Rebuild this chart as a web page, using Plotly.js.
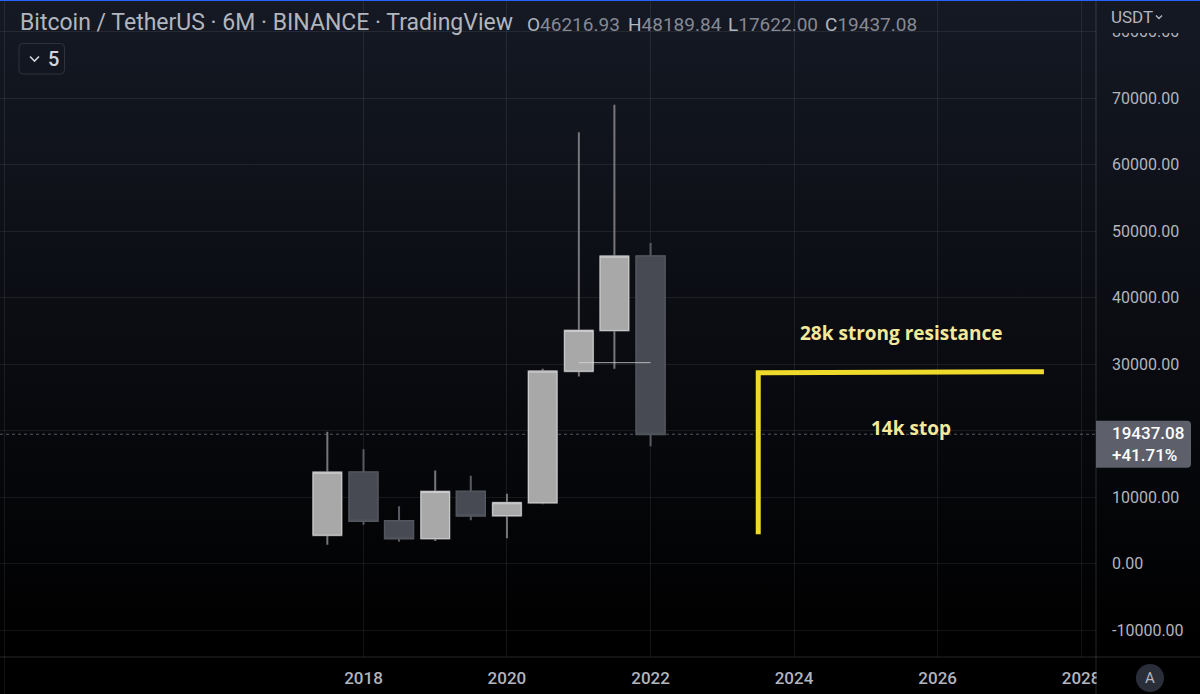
<!DOCTYPE html>
<html>
<head>
<meta charset="utf-8">
<script src="https://cdn.plot.ly/plotly-3.0.1.min.js"></script>
<style>
  html, body { margin: 0; padding: 0; width: 1200px; height: 694px; overflow: hidden; }
  body { background: linear-gradient(to bottom, #151924 0px, #000000 650px, #000000 694px); }
  #chart { width: 1200px; height: 694px; }
</style>
</head>
<body>
<div id="chart"></div>
<script>
// BTC/USDT half-year (6M) candles, Binance
const periods = ['2017-07-01', '2018-01-01', '2018-07-01', '2019-01-01', '2019-07-01',
                 '2020-01-01', '2020-07-01', '2021-01-01', '2021-07-01', '2022-01-01'];
const opens  = [4261.48, 13715.65, 6390.07, 3742.70, 10818.56, 7195.24, 9138.00, 28923.63, 35045.00, 46216.93];
const highs  = [19798.68, 17176.24, 8600.00, 13970.00, 13200.00, 10500.00, 29300.00, 64854.00, 69000.00, 48189.84];
const lows   = [2817.00, 5826.00, 3280.00, 3400.00, 6500.00, 3800.00, 8900.00, 28130.00, 29278.00, 17622.00];
const closes = [13715.65, 6390.07, 3742.70, 10818.56, 7195.24, 9138.00, 28923.63, 35045.00, 46216.93, 19437.08];

// Price scale levels and time scale labels
const priceLevels = [-10000, 0, 10000, 20000, 30000, 40000, 50000, 60000, 70000, 80000];
const yearLabels = ['2018', '2020', '2022', '2024', '2026', '2028'];

// Drawings on the chart
const rayX = ['2021-01-01', '2022-01-01'];
const rayY = [30200, 30200];
const trendX = ['2023-07-03', '2023-07-03', '2027-06-26'];
const trendY = [4400, 28700, 28850];
const changeLabel = '+41.71%';

const last = closes.length - 1;
const bodyHigh = opens.map((o, i) => Math.max(o, closes[i]));
const bodyLow = opens.map((o, i) => Math.min(o, closes[i]));

const UI_FONT = 'Roboto, "Noto Sans", sans-serif';
const GRID = 'rgba(255,255,255,0.075)';
const SEP = 'rgba(255,255,255,0.15)';

const traces = [
  { // wicks and bodies
    type: 'candlestick', x: periods, open: opens, high: highs, low: lows, close: closes,
    increasing: { fillcolor: '#a8a8a8', line: { color: '#77777b', width: 2 } },
    decreasing: { fillcolor: '#474a53', line: { color: '#595b62', width: 2 } },
    whiskerwidth: 0, hoverinfo: 'skip', showlegend: false
  },
  { // body outlines
    type: 'candlestick', x: periods, open: opens, high: bodyHigh, low: bodyLow, close: closes,
    increasing: { fillcolor: '#a8a8a8', line: { color: '#cdcdcd', width: 1 } },
    decreasing: { fillcolor: '#474a53', line: { color: '#51545c', width: 1 } },
    whiskerwidth: 0, hoverinfo: 'skip', showlegend: false
  },
  { // horizontal ray
    type: 'scatter', mode: 'lines', x: rayX, y: rayY,
    line: { color: 'rgba(220,220,220,0.75)', width: 1 }, hoverinfo: 'skip', showlegend: false
  },
  { // stop / resistance drawing
    type: 'scatter', mode: 'lines', x: trendX, y: trendY,
    line: { color: '#efd92b', width: 5 }, hoverinfo: 'skip', showlegend: false
  }
];

const fmt = v => v.toFixed(2);
// the last-price tag sits over the nearest scale label
const tagCovers = v => Math.abs(v - closes[last]) < 2500;

const shapes = [
  // last price dotted line
  { type: 'line', xref: 'paper', x0: 0, x1: 1, yref: 'y', y0: closes[last], y1: closes[last],
    line: { color: 'rgba(150,155,165,0.55)', width: 1, dash: 'dot' }, layer: 'below' },
  // mask under the currency selector
  { type: 'rect', xref: 'paper', x0: 1.0005, x1: 1.1, yref: 'paper', y0: 1 - 33 / 657, y1: 1.01,
    fillcolor: '#141823', line: { width: 0 }, layer: 'above' },
  // time axis strip under the price scale
  { type: 'rect', xref: 'paper', x0: 1.0005, x1: 1.1, yref: 'paper', y0: -0.06, y1: 0,
    fillcolor: '#000000', line: { width: 0 }, layer: 'above' },
  // pane separators
  { type: 'line', xref: 'paper', x0: 1, x1: 1, yref: 'paper', y0: -0.06, y1: 1.01,
    line: { color: SEP, width: 1 }, layer: 'above' },
  { type: 'line', xref: 'paper', x0: 0, x1: 1.1, yref: 'paper', y0: 0, y1: 0,
    line: { color: SEP, width: 1 }, layer: 'above' },
  { type: 'line', xref: 'paper', x0: 4.5 / 1096, x1: 4.5 / 1096, yref: 'paper', y0: -0.06, y1: 1.01,
    line: { color: GRID, width: 1 }, layer: 'above' },
  // top accent
  { type: 'line', xref: 'paper', x0: 0, x1: 1.1, yref: 'paper', y0: 1, y1: 1,
    line: { color: '#2962ff', width: 2 }, layer: 'above' },
  // collapse button
  { type: 'path', xref: 'paper', xsizemode: 'pixel', xanchor: 0, yref: 'paper', ysizemode: 'pixel', yanchor: 1,
    path: 'M 23,-43.5 H 60.5 Q 64.5,-43.5 64.5,-47.5 V -70 Q 64.5,-74 60.5,-74 H 23 Q 19,-74 19,-70 V -47.5 Q 19,-43.5 23,-43.5 Z',
    line: { color: '#2e323d', width: 1 }, fillcolor: 'rgba(0,0,0,0)', layer: 'above' },
  { type: 'path', xref: 'paper', xsizemode: 'pixel', xanchor: 0, yref: 'paper', ysizemode: 'pixel', yanchor: 1,
    path: 'M 30,-56.5 L 34.5,-61 L 39,-56.5',
    line: { color: '#d1d4dc', width: 1.6 }, layer: 'above' },
  // currency chevron
  { type: 'path', xref: 'paper', xsizemode: 'pixel', xanchor: 1, yref: 'paper', ysizemode: 'pixel', yanchor: 1,
    path: 'M 60,-15.5 L 63,-18.5 L 66,-15.5',
    line: { color: '#b2b5be', width: 1.4 }, layer: 'above' },
  // last price tag
  { type: 'path', xref: 'paper', xsizemode: 'pixel', xanchor: 1, yref: 'y', ysizemode: 'pixel', yanchor: closes[last],
    path: 'M 0,13.5 H 91 Q 95,13.5 95,9.5 V -29.5 Q 95,-33.5 91,-33.5 H 0 Z',
    fillcolor: '#5d606b', line: { width: 0 }, layer: 'above' },
  // scale mode button
  { type: 'circle', xref: 'paper', xsizemode: 'pixel', xanchor: 1, yref: 'paper', ysizemode: 'pixel', yanchor: 0,
    x0: 40, x1: 68, y0: -7, y1: -35, fillcolor: '#2a2e39', line: { width: 0 }, layer: 'above' }
];

const ohlcParts = [['O', opens[last], 525], ['H', highs[last], 626], ['L', lows[last], 726], ['C', closes[last], 823]];

const annotations = [
  { xref: 'paper', yref: 'paper', x: 0, y: 1, xshift: 18, yshift: -22, xanchor: 'left', yanchor: 'middle',
    showarrow: false, text: 'Bitcoin / TetherUS · 6M · BINANCE · TradingView',
    font: { family: UI_FONT, size: 23, color: '#b2b5be' } },
  ...ohlcParts.map(([k, v, px]) => ({
    xref: 'paper', yref: 'paper', x: 0, y: 1, xshift: px, yshift: -24, xanchor: 'left', yanchor: 'middle',
    showarrow: false,
    text: '<span style="color:#b2b5be">' + k + '</span><span style="color:#868993">' + fmt(v) + '</span>',
    font: { family: UI_FONT, size: 19, color: '#868993' } })),
  { xref: 'paper', yref: 'paper', x: 0, y: 1, xshift: 53, yshift: -59, xanchor: 'center', yanchor: 'middle',
    showarrow: false, text: '5', font: { family: UI_FONT, size: 20, color: '#d1d4dc', weight: 500 } },
  { xref: 'paper', yref: 'paper', x: 1, y: 1, xshift: 13, yshift: -17, xanchor: 'left', yanchor: 'middle',
    showarrow: false, text: 'USDT', font: { family: UI_FONT, size: 17, color: '#b2b5be' } },
  { xref: 'paper', yref: 'y', x: 1, y: closes[last], xshift: 14, yshift: -10, xanchor: 'left', yanchor: 'middle',
    showarrow: false, align: 'left',
    text: fmt(closes[last]) + '<br>' + changeLabel,
    font: { family: UI_FONT, size: 17, color: '#ffffff', weight: 500 } },
  { xref: 'paper', yref: 'paper', x: 1, y: 0, xshift: 54, yshift: -21, xanchor: 'center', yanchor: 'middle',
    showarrow: false, text: 'A', font: { family: UI_FONT, size: 15, color: '#b2b5be' } },
  { xref: 'x', yref: 'y', x: '2025-06-29', y: 34660, xanchor: 'center', yanchor: 'middle',
    showarrow: false, text: '28k strong resistance',
    font: { family: '"Open Sans", sans-serif', size: 19, color: '#f4e99b', weight: 'bold' } },
  { xref: 'x', yref: 'y', x: '2025-08-19', y: 20380, xanchor: 'center', yanchor: 'middle',
    showarrow: false, text: '14k stop',
    font: { family: '"Open Sans", sans-serif', size: 19, color: '#f4e99b', weight: 'bold' } }
];

const layout = {
  width: 1200, height: 694,
  margin: { l: 0, r: 104, t: 0, b: 37, pad: 0 },
  paper_bgcolor: 'rgba(0,0,0,0)', plot_bgcolor: 'rgba(0,0,0,0)',
  showlegend: false, boxgap: 0.2, boxgroupgap: 0, dragmode: false, hovermode: false,
  xaxis: {
    type: 'date', range: ['2012-12-08', '2028-03-17'],
    tickvals: yearLabels.map(y => y + '-01-01'), ticktext: yearLabels,
    showgrid: true, gridcolor: GRID, gridwidth: 1, zeroline: false, showline: false,
    ticks: '', ticklabelstandoff: 9,
    tickfont: { family: UI_FONT, size: 17, color: '#b2b5be', weight: 500 },
    rangeslider: { visible: false }, fixedrange: true
  },
  yaxis: {
    side: 'right', range: [-14060, 84737],
    tickvals: priceLevels, ticktext: priceLevels.map(v => tagCovers(v) ? '' : fmt(v)),
    showgrid: true, gridcolor: GRID, gridwidth: 1, zeroline: false, showline: false,
    ticks: '', ticklabelstandoff: 15,
    tickfont: { family: UI_FONT, size: 16, color: '#b2b5be' },
    fixedrange: true
  },
  shapes: shapes,
  annotations: annotations
};

Plotly.newPlot('chart', traces, layout, { staticPlot: true, displayModeBar: false });
</script>
</body>
</html>
